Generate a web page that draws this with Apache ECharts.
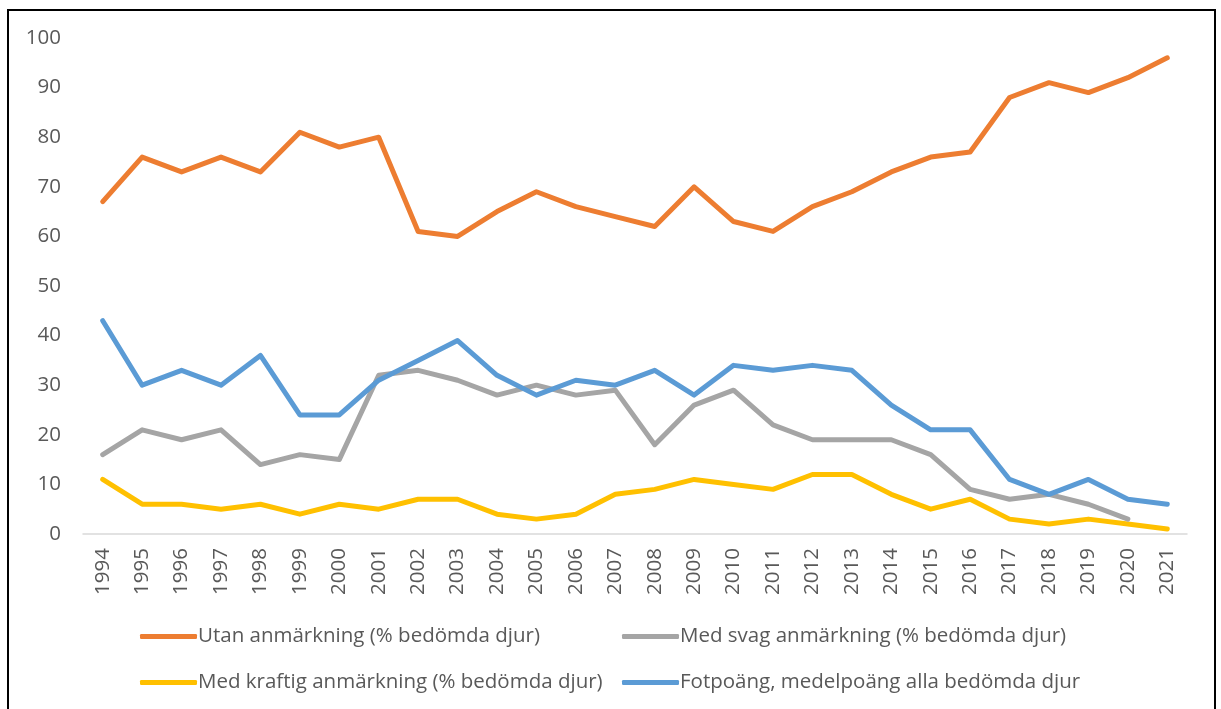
<!DOCTYPE html>
<html><head><meta charset="utf-8">
<script src="https://cdn.jsdelivr.net/npm/echarts@6/dist/echarts.min.js"></script>
<style>html,body{margin:0;padding:0;background:#fff}#c{width:1221px;height:709px}</style>
</head><body><div id="c"></div>
<script>
const years = ['1994','1995','1996','1997','1998','1999','2000','2001','2002','2003','2004','2005','2006','2007','2008','2009','2010','2011','2012','2013','2014','2015','2016','2017','2018','2019','2020','2021'];
const utan = [67,76,73,76,73,81,78,80,61,60,65,69,66,64,62,70,63,61,66,69,73,76,77,88,91,89,92,96];
const svag = [16,21,19,21,14,16,15,32,33,31,28,30,28,29,18,26,29,22,19,19,19,16,9,7,8,6,3,null];
const kraftig = [11,6,6,5,6,4,6,5,7,7,4,3,4,8,9,11,10,9,12,12,8,5,7,3,2,3,2,1];
const fotpoang = [43,30,33,30,36,24,24,31,35,39,32,28,31,30,33,28,34,33,34,33,26,21,21,11,8,11,7,6];
const names = ['Utan anmärkning (% bedömda djur)','Med svag anmärkning (% bedömda djur)','Med kraftig anmärkning (% bedömda djur)','Fotpoäng, medelpoäng alla bedömda djur'];
const colors = ['#ED7D31','#A5A5A5','#FFC000','#5B9BD5'];
const FONT = '"Open Sans", Lato, sans-serif';
const chart = echarts.init(document.getElementById('c'));
const mk = (i, d, z) => ({name: names[i], type: 'line', data: d, symbol: 'none', z: z,
  lineStyle: {color: colors[i], width: 5, cap: 'round', join: 'round'}, itemStyle: {color: colors[i]}});
const lg = (i, left, top) => ({data: [names[i]], left: left, top: top, icon: 'roundRect', itemWidth: 57, itemHeight: 5, itemGap: 2,
  textStyle: {fontFamily: FONT, fontSize: 20.5, color: '#595959', padding: [0,0,0,-4]}, selectedMode: false});
chart.setOption({
  animation: false,
  textStyle: {fontFamily: FONT},
  grid: {left: 83, right: 34, top: 38, bottom: 175, containLabel: false},
  legend: [lg(0, 135, 621), lg(1, 617, 621), lg(2, 135, 667), lg(3, 617, 667)],
  xAxis: {type: 'category', data: years, boundaryGap: true,
    axisLine: {lineStyle: {color: '#D9D9D9', width: 1.5}}, axisTick: {show: false},
    axisLabel: {rotate: 90, fontSize: 20.5, color: '#595959', fontFamily: FONT, margin: 14, interval: 0}},
  yAxis: {type: 'value', min: 0, max: 100, interval: 10, splitLine: {show: false},
    axisLine: {show: false}, axisTick: {show: false},
    axisLabel: {fontSize: 20.5, color: '#595959', fontFamily: FONT, margin: 22}},
  series: [mk(0, utan, 4), mk(1, svag, 2), mk(2, kraftig, 1), mk(3, fotpoang, 3)],
  graphic: [{type: 'rect', shape: {x: 8, y: 10, width: 1207, height: 720}, style: {fill: 'none', stroke: '#000', lineWidth: 2}, silent: true}]
});
</script></body></html>
